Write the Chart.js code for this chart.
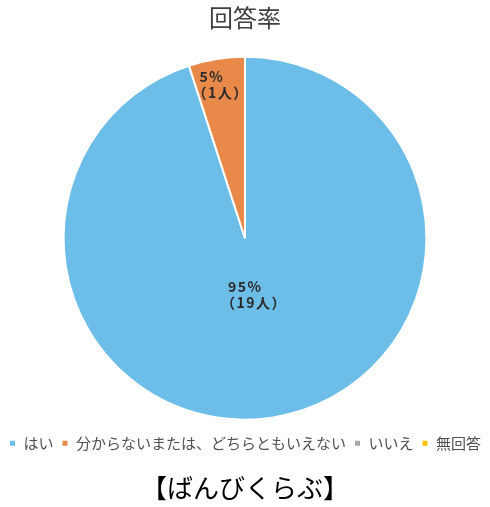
<!DOCTYPE html>
<html>
<head>
<meta charset="utf-8">
<script src="https://cdn.jsdelivr.net/npm/chart.js@4/dist/chart.umd.min.js"></script>
<style>
  html, body { margin: 0; padding: 0; background: #ffffff; }
  #wrap { width: 490px; height: 507px; position: relative; }
</style>
</head>
<body>
<div id="wrap"><canvas id="c" width="490" height="507"></canvas></div>
<script>
// Answer categories and respondent counts
const categories = ['はい', '分からないまたは、どちらともいえない', 'いいえ', '無回答'];
const counts = [19, 1, 0, 0];
const sliceColors = ['#6cbde8', '#e8894a', '#a5a5a5', '#ffc000'];
const chartTitle = '回答率';
const groupName = '【ばんびくらぶ】';

const FONT = '"Noto Sans CJK JP", "Noto Sans", sans-serif';
const total = counts.reduce((a, b) => a + b, 0);

// Percentage + head-count labels drawn inside each non-empty slice
const sliceLabels = {
  id: 'sliceLabels',
  afterDatasetsDraw(chart, args, opts) {
    const meta = chart.getDatasetMeta(0);
    const ctx = chart.ctx;
    ctx.save();
    ctx.font = 'bold 14px ' + FONT;
    ctx.letterSpacing = '1.5px';
    ctx.fillStyle = opts.color;
    ctx.textAlign = 'left';
    ctx.textBaseline = 'middle';
    meta.data.forEach((arc, i) => {
      const v = counts[i];
      if (!v) return;
      const p = arc.getProps(['x', 'y', 'startAngle', 'endAngle', 'outerRadius'], true);
      const mid = (p.startAngle + p.endAngle) / 2;
      const r = p.outerRadius * opts.radius[i];
      const cx = p.x + Math.cos(mid) * r;
      const cy = p.y + Math.sin(mid) * r;
      const pct = Math.round(v / total * 100);
      const l1 = pct + '%';
      const l2 = '（' + v + '人）';
      // the full-width bracket carries half an em of blank space on its left
      const inset = 7;
      const w = Math.max(ctx.measureText(l1).width, ctx.measureText(l2).width - inset * 2);
      const x0 = cx - w / 2;
      ctx.fillText(l1, x0, cy - 8);
      ctx.fillText(l2, x0 - inset, cy + 8);
    });
    ctx.restore();
  }
};

new Chart(document.getElementById('c'), {
  type: 'pie',
  data: {
    labels: categories,
    datasets: [{
      data: counts,
      backgroundColor: sliceColors,
      borderColor: '#ffffff',
      borderWidth: 2
    }]
  },
  options: {
    responsive: false,
    animation: false,
    layout: { padding: { left: 0, right: 0, top: 0, bottom: 0 } },
    plugins: {
      title: {
        display: true,
        text: chartTitle,
        color: '#404040',
        font: { family: FONT, size: 24, weight: 'normal' },
        padding: { top: 3, bottom: 24 }
      },
      subtitle: {
        display: true,
        position: 'bottom',
        text: groupName,
        color: '#000000',
        font: { family: FONT, size: 26, weight: 'normal' },
        padding: { top: 12, bottom: 3 }
      },
      legend: {
        position: 'bottom',
        title: {
          display: true,
          text: ' ',
          font: { size: 1 },
          padding: 3
        },
        labels: {
          color: '#505050',
          font: { family: FONT, size: 15 },
          boxWidth: 7,
          boxHeight: 7,
          padding: 8
        }
      },
      tooltip: { enabled: false },
      sliceLabels: { color: '#2b2b2b', radius: [0.315, 0.858, 0.5, 0.5] }
    }
  },
  plugins: [sliceLabels]
});
</script>
</body>
</html>
